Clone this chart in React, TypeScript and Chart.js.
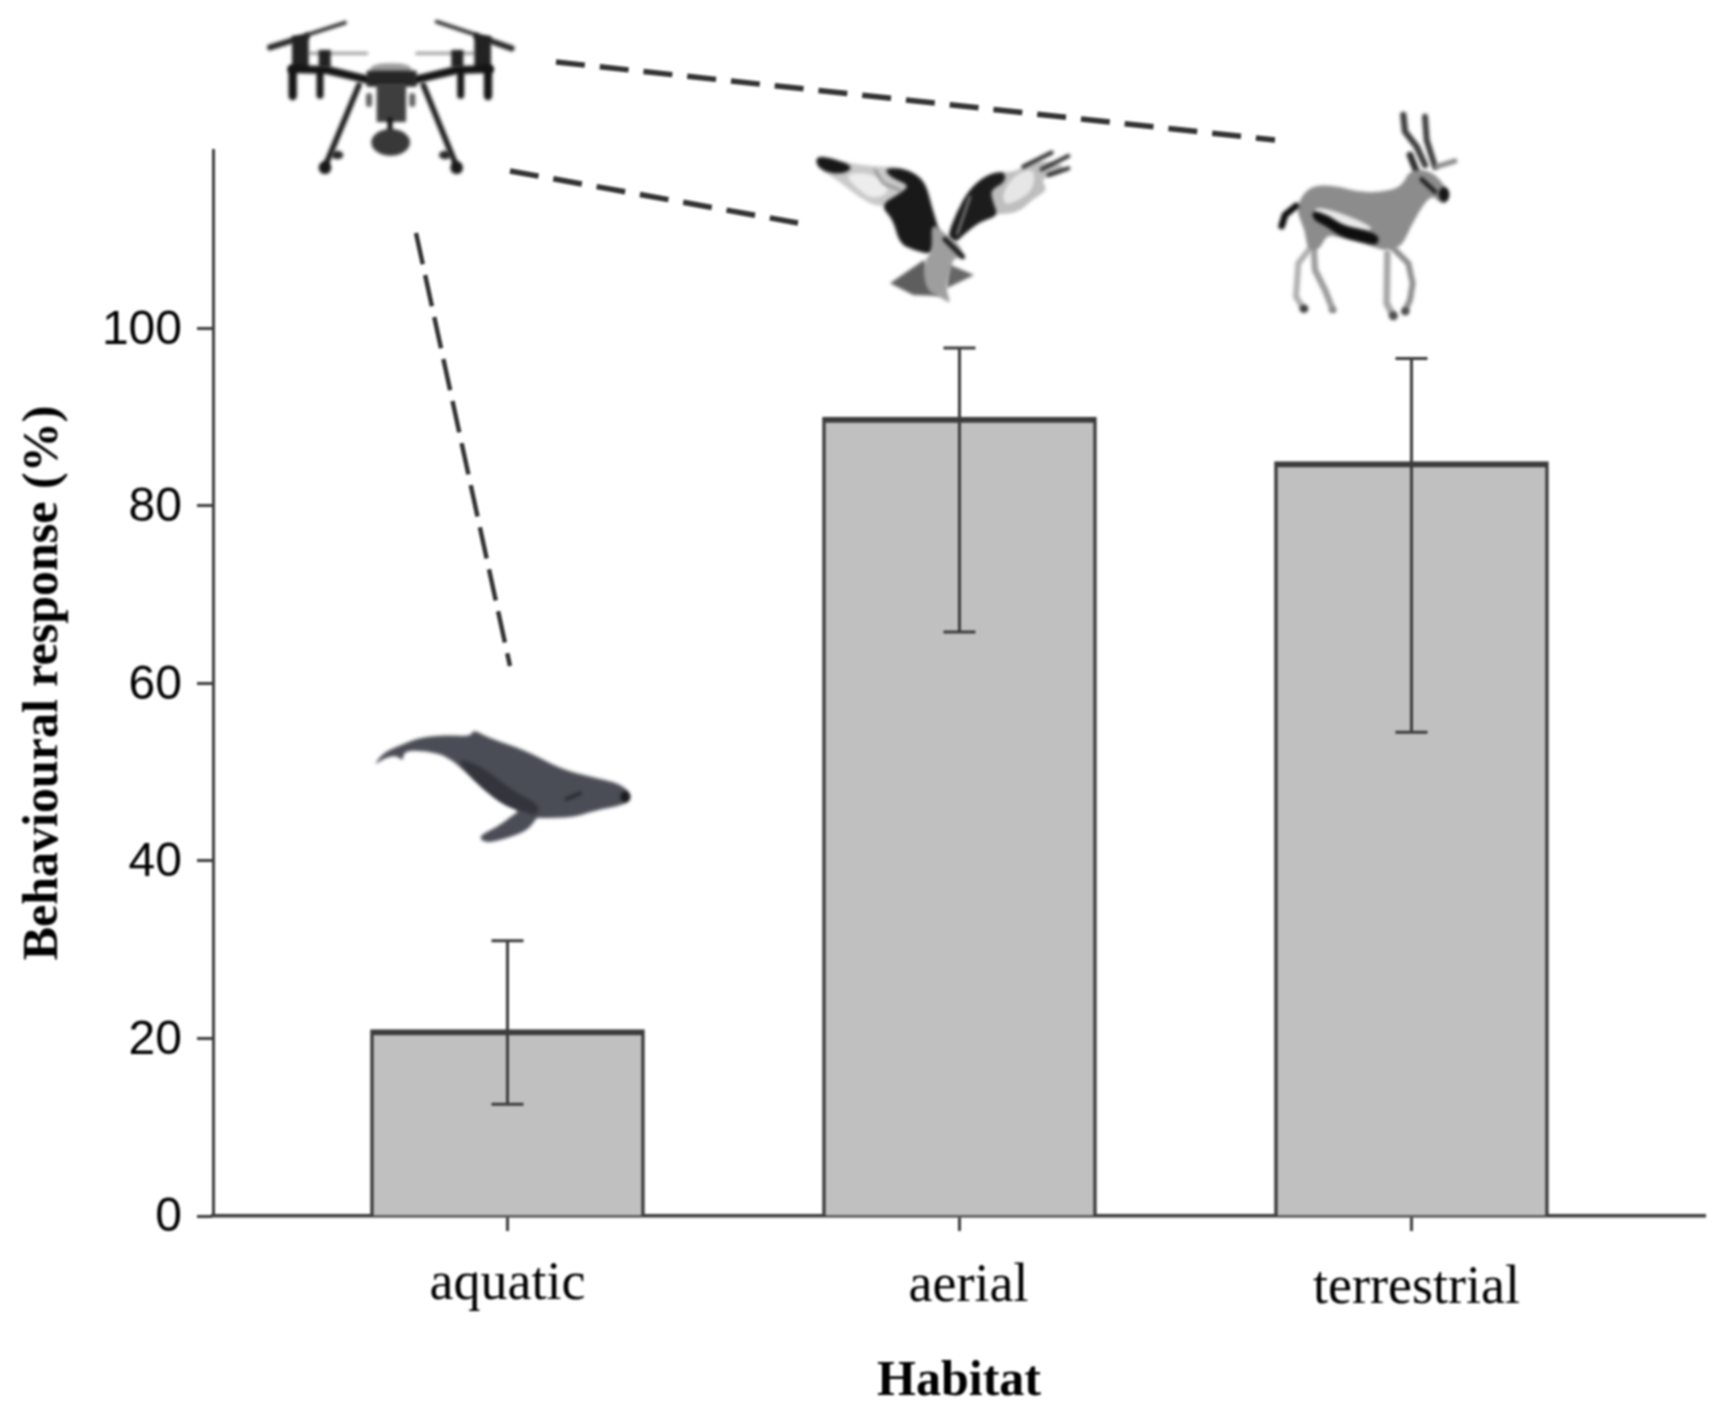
import React, { FC, useEffect, useRef } from 'react'
import Chart from 'chart.js/auto'

const categories = ['aquatic', 'aerial', 'terrestrial']
const barValues = [21, 90, 85]
const errorLow = [12.6, 65.8, 54.5]
const errorHigh = [31, 97.8, 96.6]
const yTickValues = [0, 20, 40, 60, 80, 100]

const INK = '#3c3c3c'
const labelShift = [0, 9, 5]
const labelBaseline = [1299, 1301, 1303]

type Pt = [number, number]

// closed shape with rounded corners, goes through the edge midpoints
const fillPoly = (ctx: CanvasRenderingContext2D, pts: Pt[], color: string) => {
  const mid = (a: Pt, b: Pt): Pt => [(a[0] + b[0]) / 2, (a[1] + b[1]) / 2]
  ctx.fillStyle = color
  ctx.beginPath()
  const start = mid(pts[pts.length - 1], pts[0])
  ctx.moveTo(start[0], start[1])
  pts.forEach((p, i) => {
    const m = mid(p, pts[(i + 1) % pts.length])
    ctx.quadraticCurveTo(p[0], p[1], m[0], m[1])
  })
  ctx.closePath()
  ctx.fill()
}

const fillSharp = (ctx: CanvasRenderingContext2D, pts: Pt[], color: string) => {
  ctx.fillStyle = color
  ctx.beginPath()
  pts.forEach(([x, y], i) => (i ? ctx.lineTo(x, y) : ctx.moveTo(x, y)))
  ctx.closePath()
  ctx.fill()
}

const strokeLine = (ctx: CanvasRenderingContext2D, pts: Pt[], color: string, width: number) => {
  ctx.strokeStyle = color
  ctx.lineWidth = width
  ctx.lineCap = 'round'
  ctx.lineJoin = 'round'
  ctx.beginPath()
  pts.forEach(([x, y], i) => (i ? ctx.lineTo(x, y) : ctx.moveTo(x, y)))
  ctx.stroke()
}

const dot = (ctx: CanvasRenderingContext2D, x: number, y: number, rx: number, ry: number, color: string) => {
  ctx.fillStyle = color
  ctx.beginPath()
  ctx.ellipse(x, y, rx, ry, 0, 0, Math.PI * 2)
  ctx.fill()
}

// pictures are traced in 3x crop coordinates, see the origin passed to each one
const sketch = (ctx: CanvasRenderingContext2D, ox: number, oy: number, draw: () => void) => {
  ctx.save()
  ctx.translate(ox, oy)
  ctx.scale(1 / 3, 1 / 3)
  ctx.filter = 'blur(1.4px)'
  draw()
  ctx.restore()
}

const drawDrone = (ctx: CanvasRenderingContext2D) =>
  sketch(ctx, 260, 10, () => {
    strokeLine(ctx, [[150, 130], [320, 130]], '#a0a0a0', 10)
    strokeLine(ctx, [[470, 130], [640, 130]], '#a0a0a0', 10)
    strokeLine(ctx, [[30, 112], [140, 78]], '#262626', 18)
    strokeLine(ctx, [[140, 75], [255, 38]], '#262626', 11)
    strokeLine(ctx, [[650, 78], [755, 115]], '#262626', 18)
    strokeLine(ctx, [[530, 35], [650, 75]], '#262626', 11)
    ctx.fillStyle = '#222'
    ctx.fillRect(96, 78, 50, 100)
    ctx.fillRect(643, 78, 50, 100)
    ctx.fillRect(176, 120, 36, 52)
    ctx.fillRect(574, 120, 36, 52)
    strokeLine(ctx, [[95, 177], [200, 180], [320, 208]], '#141414', 24)
    strokeLine(ctx, [[690, 177], [590, 180], [470, 208]], '#141414', 24)
    strokeLine(ctx, [[98, 178], [98, 258]], '#141414', 25)
    strokeLine(ctx, [[180, 190], [180, 256]], '#141414', 21)
    strokeLine(ctx, [[602, 190], [602, 256]], '#141414', 21)
    strokeLine(ctx, [[684, 178], [684, 258]], '#141414', 25)
    fillPoly(ctx, [[335, 160], [450, 160], [460, 195], [326, 195]], '#9c9c9c')
    ctx.fillStyle = '#262626'
    ctx.fillRect(320, 182, 150, 48)
    ctx.fillStyle = '#3e3e3e'
    ctx.fillRect(350, 222, 88, 114)
    strokeLine(ctx, [[327, 258], [327, 282]], '#606060', 18)
    strokeLine(ctx, [[457, 258], [457, 282]], '#606060', 18)
    strokeLine(ctx, [[390, 330], [390, 365]], '#0c0c0c', 15)
    dot(ctx, 392, 397, 58, 40, '#383838')
    strokeLine(ctx, [[297, 225], [195, 470]], '#1e1e1e', 17)
    strokeLine(ctx, [[490, 225], [590, 470]], '#1e1e1e', 17)
    dot(ctx, 195, 473, 19, 19, '#181818')
    dot(ctx, 590, 473, 19, 19, '#181818')
    dot(ctx, 232, 435, 18, 13, '#282828')
    dot(ctx, 555, 435, 18, 13, '#282828')
  })

const drawOsprey = (ctx: CanvasRenderingContext2D) =>
  sketch(ctx, 800, 140, () => {
    fillPoly(ctx, [[50, 50], [110, 62], [220, 80], [300, 80], [370, 120], [300, 180], [240, 205], [180, 175], [120, 125], [55, 85]], '#c9c9c9')
    fillPoly(ctx, [[130, 100], [225, 100], [275, 155], [220, 178], [175, 150]], '#ededed')
    strokeLine(ctx, [[225, 90], [250, 130], [300, 150]], '#888', 7)
    fillPoly(ctx, [[45, 48], [100, 55], [165, 82], [120, 105], [55, 88]], '#171717')
    fillPoly(ctx, [[250, 85], [315, 85], [375, 120], [395, 200], [425, 295], [398, 345], [340, 330], [298, 310], [280, 240], [240, 195], [300, 160], [330, 135], [275, 115]], '#191919')
    fillPoly(ctx, [[470, 220], [510, 150], [560, 110], [610, 95], [650, 95], [700, 60], [790, 70], [790, 100], [720, 115], [745, 150], [700, 175], [660, 215], [600, 225]], '#bebebe')
    fillPoly(ctx, [[650, 100], [705, 85], [700, 150], [650, 185], [610, 195], [610, 150]], '#e6e6e6')
    strokeLine(ctx, [[670, 80], [755, 38]], '#2c2c2c', 12)
    strokeLine(ctx, [[725, 88], [805, 48]], '#2c2c2c', 12)
    strokeLine(ctx, [[745, 105], [805, 85]], '#2c2c2c', 12)
    fillPoly(ctx, [[440, 295], [470, 215], [510, 145], [560, 105], [615, 92], [615, 128], [570, 150], [580, 190], [595, 228], [540, 245], [490, 285], [468, 308]], '#1c1c1c')
    strokeLine(ctx, [[472, 282], [510, 170]], '#8c8c8c', 7)
    fillSharp(ctx, [[372, 360], [400, 420], [420, 468], [340, 465], [270, 430]], '#5e5e5e')
    fillSharp(ctx, [[445, 372], [522, 405], [440, 445]], '#666')
    fillPoly(ctx, [[392, 245], [440, 285], [475, 308], [495, 355], [460, 352], [452, 392], [436, 445], [455, 495], [420, 470], [378, 452], [368, 370], [398, 330]], '#9e9e9e')
    strokeLine(ctx, [[435, 298], [488, 350]], '#1c1c1c', 15)
  })

const drawGazelle = (ctx: CanvasRenderingContext2D) =>
  sketch(ctx, 1260, 100, () => {
    strokeLine(ctx, [[430, 45], [435, 95], [470, 140], [495, 195]], '#3e3e3e', 19)
    strokeLine(ctx, [[495, 50], [500, 120], [525, 200]], '#3e3e3e', 18)
    strokeLine(ctx, [[450, 165], [470, 215]], '#2c2c2c', 20)
    strokeLine(ctx, [[530, 200], [585, 183]], '#8a8a8a', 15)
    strokeLine(ctx, [[382, 460], [380, 610], [400, 648]], '#a6a6a6', 20)
    strokeLine(ctx, [[395, 440], [445, 490], [458, 550], [450, 600], [435, 632]], '#8f8f8f', 18)
    strokeLine(ctx, [[150, 445], [115, 490], [108, 590], [130, 625]], '#b0b0b0', 18)
    strokeLine(ctx, [[160, 420], [165, 510], [195, 570], [218, 628]], '#9c9c9c', 19)
    fillPoly(ctx, [[115, 305], [150, 258], [220, 255], [310, 280], [400, 270], [430, 250], [450, 210], [510, 210], [555, 255], [568, 300], [545, 315], [520, 285], [492, 310], [452, 380], [425, 440], [380, 450], [360, 448], [300, 425], [230, 410], [200, 405], [178, 450], [142, 450], [135, 390], [112, 340]], '#8c8c8c')
    fillPoly(ctx, [[165, 320], [235, 335], [340, 380], [325, 395], [240, 375], [165, 345]], '#e9e9e9')
    fillPoly(ctx, [[155, 330], [205, 345], [250, 378], [320, 392], [358, 408], [352, 438], [300, 425], [240, 410], [198, 378], [160, 360]], '#0e0e0e')
    strokeLine(ctx, [[65, 378], [75, 345], [108, 318]], '#0e0e0e', 20)
    strokeLine(ctx, [[485, 238], [525, 275]], '#1c1c1c', 13)
    dot(ctx, 552, 283, 16, 22, '#161616')
    dot(ctx, 132, 626, 13, 12, '#3c3c3c')
    dot(ctx, 218, 630, 11, 9, '#8c8c8c')
    dot(ctx, 400, 647, 13, 13, '#4c4c4c')
    dot(ctx, 436, 634, 12, 12, '#4c4c4c')
  })

const drawWhale = (ctx: CanvasRenderingContext2D) =>
  sketch(ctx, 340, 700, () => {
    fillPoly(ctx, [[100, 198], [130, 158], [190, 132], [240, 112], [320, 105], [392, 110], [400, 88], [440, 112], [560, 152], [660, 207], [760, 232], [845, 252], [878, 290], [855, 314], [760, 333], [700, 353], [600, 354], [590, 352], [565, 390], [500, 415], [440, 430], [412, 410], [470, 382], [520, 345], [540, 332], [490, 313], [430, 268], [380, 218], [320, 168], [260, 153], [192, 152], [188, 185], [170, 165], [130, 176]], '#4b4d56')
    fillPoly(ctx, [[350, 175], [420, 195], [520, 275], [600, 315], [590, 348], [540, 332], [490, 312], [430, 265], [380, 215]], '#33343c')
    strokeLine(ctx, [[680, 297], [720, 280]], '#2c2d33', 12)
    dot(ctx, 855, 290, 14, 16, '#1a1a1e')
  })

const dashedLines: { from: Pt; to: Pt; width: number; dash: number[] }[] = [
  { from: [556, 62], to: [1275, 140], width: 5.5, dash: [29, 15] },
  { from: [510, 171], to: [798, 223], width: 5.5, dash: [29, 15] },
  { from: [416, 233], to: [510, 666], width: 4.5, dash: [32, 11] },
]

const errorBars = {
  id: 'errorBars',
  afterDatasetsDraw(chart: any) {
    const { ctx, scales } = chart
    ctx.save()
    ctx.strokeStyle = INK
    ctx.lineWidth = 3
    categories.forEach((_, i) => {
      const x = scales.x.getPixelForValue(i + 1)
      const lo = scales.y.getPixelForValue(errorLow[i])
      const hi = scales.y.getPixelForValue(errorHigh[i])
      ctx.beginPath()
      ctx.moveTo(x, hi)
      ctx.lineTo(x, lo)
      ctx.moveTo(x - 16, hi)
      ctx.lineTo(x + 16, hi)
      ctx.moveTo(x - 16, lo)
      ctx.lineTo(x + 16, lo)
      ctx.stroke()
    })
    ctx.restore()
  },
}

const decorations = {
  id: 'decorations',
  afterDraw(chart: any) {
    const { ctx, scales } = chart
    ctx.save()
    ctx.fillStyle = '#000'
    ctx.font = '54px "Liberation Serif"'
    ctx.textAlign = 'center'
    ctx.textBaseline = 'alphabetic'
    categories.forEach((name, i) => {
      ctx.fillText(name, scales.x.getPixelForValue(i + 1) + labelShift[i], labelBaseline[i])
    })
    dashedLines.forEach((l) => {
      ctx.strokeStyle = '#333'
      ctx.lineWidth = l.width
      ctx.lineCap = 'butt'
      ctx.setLineDash(l.dash)
      ctx.beginPath()
      ctx.moveTo(l.from[0], l.from[1])
      ctx.lineTo(l.to[0], l.to[1])
      ctx.stroke()
    })
    ctx.setLineDash([])
    drawDrone(ctx)
    drawOsprey(ctx)
    drawGazelle(ctx)
    drawWhale(ctx)
    ctx.restore()
  },
}

const App: FC = () => {
  const canvasRef = useRef<HTMLCanvasElement>(null)

  useEffect(() => {
    document.body.style.margin = '0'
    if (!canvasRef.current) return

    const chart = new Chart(canvasRef.current, {
      type: 'bar',
      data: {
        datasets: [
          {
            data: categories.map((_, i) => ({ x: i + 1, y: barValues[i] })) as any,
            backgroundColor: '#c0c0c0',
            borderColor: INK,
            borderWidth: { top: 6, left: 3.5, right: 3.5, bottom: 0 },
            barThickness: 274,
          },
        ],
      },
      options: {
        responsive: false,
        devicePixelRatio: 1,
        animation: false,
        events: [],
        layout: { padding: { top: 150, right: 18, left: 0, bottom: 0 } },
        plugins: { legend: { display: false }, tooltip: { enabled: false } },
        scales: {
          x: {
            type: 'linear',
            offset: false,
            min: 0.3485,
            max: 3.6494,
            afterBuildTicks: (scale: any) => {
              scale.ticks = categories.map((_, i) => ({ value: i + 1 }))
            },
            afterFit: (scale: any) => {
              scale.height = 197
            },
            grid: { offset: false, drawOnChartArea: false, tickLength: 15, tickColor: INK, tickWidth: 3 },
            border: { color: INK, width: 3.5 },
            ticks: { display: false },
            title: {
              display: true,
              text: 'Habitat',
              color: '#000',
              font: { family: '"Liberation Serif"', size: 50, weight: 'bold' },
              padding: { top: 0, bottom: 1 },
            },
          },
          y: {
            min: 0,
            max: 120.1,
            afterBuildTicks: (scale: any) => {
              scale.ticks = yTickValues.map((value) => ({ value }))
            },
            afterFit: (scale: any) => {
              scale.width = 213
            },
            grid: { drawOnChartArea: false, tickLength: 16, tickColor: INK, tickWidth: 3 },
            border: { color: INK, width: 3 },
            ticks: {
              color: '#000',
              padding: 15,
              labelOffset: 2,
              font: { family: '"Liberation Sans"', size: 48 },
            },
            title: {
              display: true,
              text: 'Behavioural response (%)',
              color: '#000',
              font: { family: '"Liberation Serif"', size: 50, weight: 'bold' },
              padding: { top: 14, bottom: 0 },
            },
          },
        },
      },
      plugins: [errorBars, decorations],
    })

    return () => chart.destroy()
  }, [])

  return (
    <div style={{ width: 1723, height: 1413 }}>
      <canvas
        ref={canvasRef}
        width={1723}
        height={1413}
        style={{ display: 'block', filter: 'blur(0.8px)' }}
      />
    </div>
  )
}

export default App
